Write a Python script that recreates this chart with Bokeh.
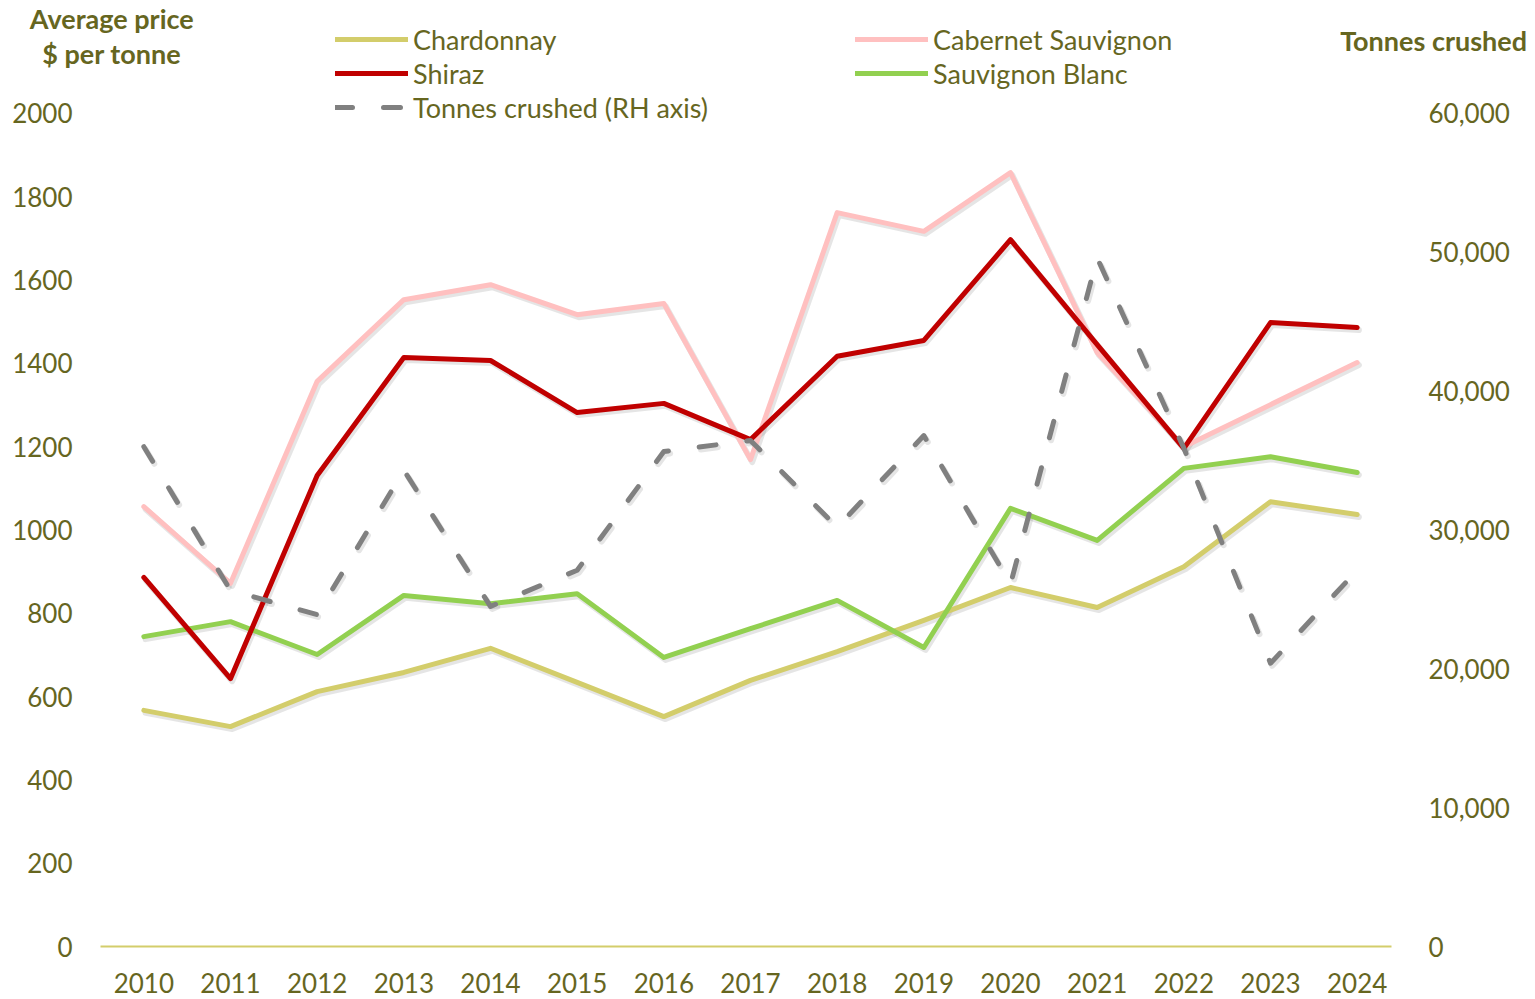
from bokeh.plotting import figure
from bokeh.models import (Range1d, LinearAxis, FixedTicker, NumeralTickFormatter,
                          Legend, LegendItem, Label, ColumnDataSource)
from bokeh.transform import dodge
from bokeh.embed import file_html
from bokeh.resources import INLINE

years = list(range(2010, 2025))
chardonnay = [567, 528, 612, 658, 716, 634, 552, 639, 708, 783, 862, 814, 912, 1068, 1037]
cabernet = [1056, 872, 1357, 1553, 1589, 1517, 1544, 1169, 1762, 1717, 1858, 1426, 1200, 1301, 1402]
shiraz = [886, 643, 1131, 1414, 1407, 1282, 1304, 1217, 1417, 1455, 1697, 1445, 1196, 1498, 1486]
sauv_blanc = [744, 780, 701, 843, 823, 847, 694, 763, 831, 718, 1052, 975, 1148, 1176, 1138]
tonnes = [36000, 25650, 23900, 34300, 24500, 27100, 35650, 36450, 30200, 36800, 26100, 49600, 35900, 20400, 27100]

left_ticks = [0, 200, 400, 600, 800, 1000, 1200, 1400, 1600, 1800, 2000]
right_ticks = [0, 10000, 20000, 30000, 40000, 50000, 60000]

TEXT = "#66661F"
FONT = "Lato"
FS = "27px"
TFS = "26px"

src = ColumnDataSource(dict(x=years, ch=chardonnay, cs=cabernet, sh=shiraz, sb=sauv_blanc, tc=tonnes))

X0, X1 = 2009.5, 2024.5
p = figure(width=1535, height=999, output_backend="svg", toolbar_location=None, title=None,
           x_range=Range1d(2008.3462, 2026.0577), y_range=Range1d(-127.25, 2271.3),
           min_border_left=0, min_border_right=0, min_border_top=0, min_border_bottom=0,
           x_axis_location=None, y_axis_location=None)
p.extra_y_ranges = {"right": Range1d(-3817.5, 68139)}
p.outline_line_color = None
p.grid.visible = False
p.background_fill_color = "white"
p.border_fill_color = "white"

# x axis
xa = LinearAxis(ticker=FixedTicker(ticks=years), bounds=(X0, X1 - 0.1), fixed_location=0)
xa.axis_line_color = "#D3CD6B"
xa.axis_line_width = 2
xa.major_tick_line_color = None
xa.minor_tick_line_color = None
xa.major_label_standoff = 20
xa.major_label_text_font = FONT
xa.major_label_text_font_size = TFS
xa.major_label_text_color = TEXT
p.add_layout(xa, "below")

# left axis (price)
ya = LinearAxis(ticker=FixedTicker(ticks=left_ticks), fixed_location=X0)
ya.axis_line_color = None
ya.major_tick_line_color = None
ya.minor_tick_line_color = None
ya.major_label_standoff = 22
ya.major_label_text_font = FONT
ya.major_label_text_font_size = TFS
ya.major_label_text_color = TEXT
p.add_layout(ya, "left")

# right axis (tonnes)
ry = LinearAxis(y_range_name="right", ticker=FixedTicker(ticks=right_ticks),
                formatter=NumeralTickFormatter(format="0,0"), fixed_location=X1)
ry.axis_line_color = None
ry.major_tick_line_color = None
ry.minor_tick_line_color = None
ry.major_label_standoff = 22
ry.major_label_text_font = FONT
ry.major_label_text_font_size = TFS
ry.major_label_text_color = TEXT
p.add_layout(ry, "right")

# shadows
SH = dict(line_color="black", line_alpha=0.10, line_width=6, line_join="round", line_cap="round")
for f in ["ch", "cs", "sb", "sh"]:
    p.line(x=dodge("x", 0.02), y=dodge(f, -6), source=src, **SH)
p.line(x=dodge("x", 0.02), y=dodge("tc", -180), source=src, y_range_name="right",
       line_dash="17 31", **SH)

W = 5
r_ch = p.line("x", "ch", source=src, line_color="#D3CD6B", line_width=W, line_join="round", line_cap="round")
r_cs = p.line("x", "cs", source=src, line_color="#FFC0C0", line_width=W, line_join="round", line_cap="round")
r_sb = p.line("x", "sb", source=src, line_color="#92D050", line_width=W, line_join="round", line_cap="round")
r_sh = p.line("x", "sh", source=src, line_color="#C00000", line_width=W, line_join="round", line_cap="round")
r_tc = p.line("x", "tc", source=src, y_range_name="right", line_color="#808080", line_width=W,
              line_dash="17 31", line_cap="round", line_join="round")

def make_legend(items, loc):
    lg = Legend(items=items, location=loc, orientation="vertical")
    lg.background_fill_alpha = 0
    lg.border_line_color = None
    lg.padding = 0
    lg.margin = 0
    lg.spacing = 0
    lg.glyph_width = 73
    lg.glyph_height = 34
    lg.label_height = 34
    lg.label_standoff = 5
    lg.label_text_font = FONT
    lg.label_text_font_size = FS
    lg.label_text_color = TEXT
    lg.label_text_baseline = "middle"
    return lg

leg1 = make_legend([LegendItem(label="Chardonnay", renderers=[r_ch]),
                    LegendItem(label="Shiraz", renderers=[r_sh]),
                    LegendItem(label="Tonnes crushed (RH axis)", renderers=[r_tc])], (335, 875))
leg2 = make_legend([LegendItem(label="Cabernet Sauvignon", renderers=[r_cs]),
                    LegendItem(label="Sauvignon Blanc", renderers=[r_sb])], (855, 909))
p.add_layout(leg1)
p.add_layout(leg2)

# titles
TB = dict(text_font=FONT, text_font_size=FS, text_font_style="bold", text_color=TEXT,
          text_baseline="middle")
p.add_layout(Label(x=2009.63, y=2228, text="Average price", text_align="center", **TB))
p.add_layout(Label(x=2009.63, y=2144, text="$ per tonne", text_align="center", **TB))
p.add_layout(Label(x=2025.96, y=2175, text="Tonnes crushed", text_align="right", **TB))

open("out.html", "w").write(file_html(p, INLINE))
